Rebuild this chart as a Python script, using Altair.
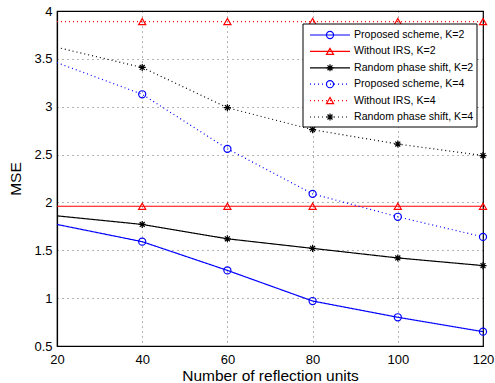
import altair as alt
import pandas as pd

n_units = [20, 40, 60, 80, 100, 120]
proposed_k2 = [1.77, 1.59, 1.29, 0.97, 0.80, 0.65]
without_k2 = [1.96, 1.96, 1.96, 1.96, 1.96, 1.96]
random_k2 = [1.86, 1.77, 1.62, 1.52, 1.42, 1.34]
proposed_k4 = [3.46, 3.13, 2.56, 2.09, 1.85, 1.64]
without_k4 = [3.89, 3.89, 3.89, 3.89, 3.89, 3.89]
random_k4 = [3.62, 3.41, 2.99, 2.76, 2.61, 2.49]

series_names = [
    "Proposed scheme, K=2",
    "Without IRS, K=2",
    "Random phase shift, K=2",
    "Proposed scheme, K=4",
    "Without IRS, K=4",
    "Random phase shift, K=4",
]
series_values = [proposed_k2, without_k2, random_k2, proposed_k4, without_k4, random_k4]
colors = ["#0000ff", "#ff0000", "#000000", "#0000ff", "#ff0000", "#000000"]
dashes = [[1, 0], [1, 0], [1, 0], [1, 3], [1, 3], [1, 3]]
asterisk = "M-1,0L1,0M0,-1L0,1M-0.7,-0.7L0.7,0.7M-0.7,0.7L0.7,-0.7"
shapes = ["circle", "triangle-up", asterisk, "circle", "triangle-up", asterisk]

rows = []
for name, vals in zip(series_names, series_values):
    for x, v in zip(n_units, vals):
        rows.append({"series": name, "n": x, "mse": v})
df = pd.DataFrame(rows)

leg_df = pd.DataFrame({"series": series_names, "row": list(range(6))})

color_scale = alt.Scale(domain=series_names, range=colors)
dash_scale = alt.Scale(domain=series_names, range=dashes)
shape_scale = alt.Scale(domain=series_names, range=shapes)

xenc = alt.X("n:Q", scale=alt.Scale(domain=[20, 120], nice=False),
             axis=alt.Axis(values=[20, 40, 60, 80, 100, 120], title="Number of reflection units"))
yenc = alt.Y("mse:Q", scale=alt.Scale(domain=[0.5, 4], nice=False, zero=False),
             axis=alt.Axis(values=[0.5, 1, 1.5, 2, 2.5, 3, 3.5, 4], format="~g", title="MSE"))

base = alt.Chart(df)
lines = base.mark_line(strokeWidth=1.2).encode(
    x=xenc, y=yenc,
    color=alt.Color("series:N", scale=color_scale, legend=None),
    strokeDash=alt.StrokeDash("series:N", scale=dash_scale, legend=None),
    detail="series:N",
)
points = base.transform_filter("datum.n > 20").mark_point(filled=False, size=50, strokeWidth=1.2, opacity=1).encode(
    x=xenc, y=yenc,
    color=alt.Color("series:N", scale=color_scale, legend=None),
    shape=alt.Shape("series:N", scale=shape_scale, legend=None),
)

leg = alt.Chart(leg_df).transform_calculate(ly="24 + 16.4*datum.row")
leg_box = alt.Chart(leg_df).mark_rect(fill="white", stroke="black", strokeWidth=1).encode(
    x=alt.value(246), x2=alt.value(420), y=alt.value(13), y2=alt.value(116)
).transform_filter("datum.row == 0")
leg_lines = leg.mark_rule(strokeWidth=1.2).encode(
    x=alt.value(253), x2=alt.value(293),
    y=alt.Y("ly:Q", scale=None),
    color=alt.Color("series:N", scale=color_scale, legend=None),
    strokeDash=alt.StrokeDash("series:N", scale=dash_scale, legend=None),
)
leg_pts = leg.mark_point(filled=False, size=50, strokeWidth=1.2, opacity=1).encode(
    x=alt.value(273),
    y=alt.Y("ly:Q", scale=None),
    color=alt.Color("series:N", scale=color_scale, legend=None),
    shape=alt.Shape("series:N", scale=shape_scale, legend=None),
)
leg_text = leg.mark_text(align="left", baseline="middle", fontSize=10.6, font="Liberation Sans", color="black").encode(
    x=alt.value(297),
    y=alt.Y("ly:Q", scale=None),
    text="series:N",
)

chart = alt.layer(lines, points, leg_box, leg_lines, leg_pts, leg_text).properties(
    width=426, height=335,
    padding={"left": 57, "top": 11, "right": 12, "bottom": 37},
    autosize=alt.AutoSizeParams(type="none"),
).configure_view(stroke="black", strokeWidth=1.2).configure_axis(
    labelFont="Liberation Sans", titleFont="Liberation Sans",
    labelFontSize=13, titleFontSize=15.5, titleFontWeight="normal",
    labelColor="black", titleColor="black",
    domainColor="black", domainWidth=1.2,
    ticks=False, labelPadding=5, labelFlush=False,
    grid=True, gridColor="black", gridDash=[1, 4], gridOpacity=0.6, gridWidth=1,
).configure_axisX(titlePadding=2, labelPadding=7).configure_axisY(titlePadding=10)

chart.save("out.html", embed_options={"renderer": "svg", "actions": False})
